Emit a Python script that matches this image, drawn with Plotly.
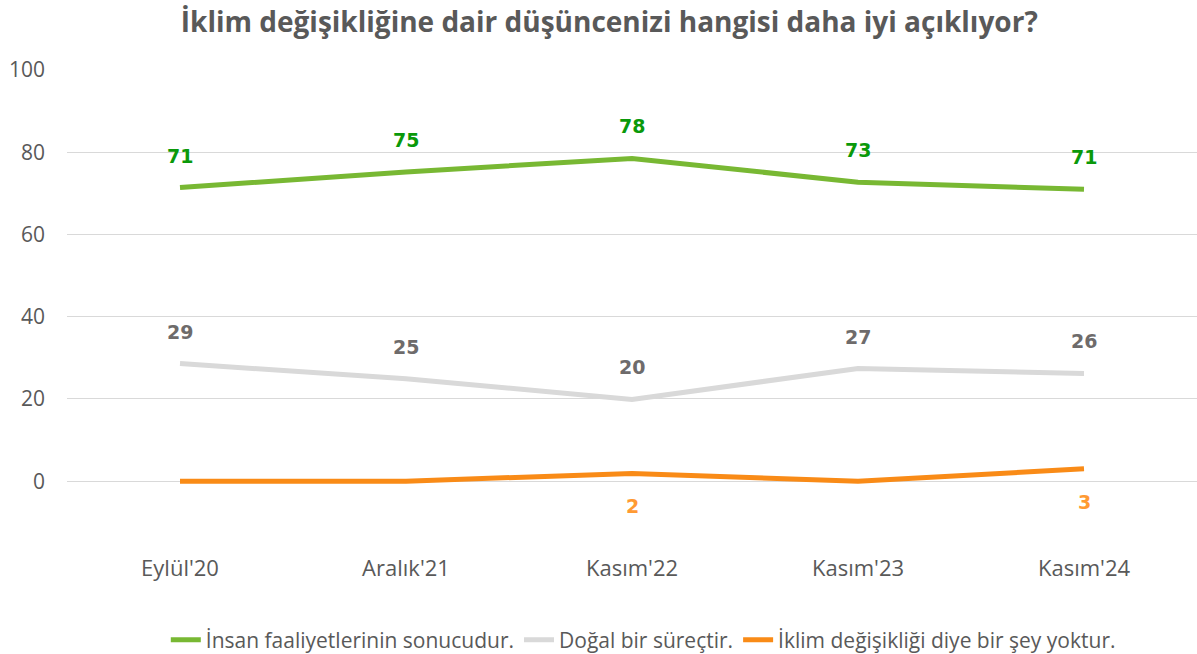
import plotly.graph_objects as go

categories = ["Eylül'20", "Aralık'21", "Kasım'22", "Kasım'23", "Kasım'24"]
insan = [71.4, 75.2, 78.5, 72.7, 71.0]
dogal = [28.6, 24.9, 19.9, 27.4, 26.2]
yok = [0.0, 0.0, 1.9, 0.0, 3.0]
insan_lbl = ["71", "75", "78", "73", "71"]
dogal_lbl = ["29", "25", "20", "27", "26"]
yok_lbl = ["", "", "2", "", "3"]
series_names = ["İnsan faaliyetlerinin sonucudur.", "Doğal bir süreçtir.", "İklim değişikliği diye bir şey yoktur."]
yticks = [0, 20, 40, 60, 80, 100]

line_cols = ["#78B833", "#D9D9D9", "#F98B17"]
lbl_cols = ["#0A990A", "#6E6B6B", "#FF9A33"]

txt = "Open Sans, Liberation Sans, sans-serif"

fig = go.Figure()
for vals, name, col in zip([insan, dogal, yok], series_names, line_cols):
    fig.add_trace(go.Scatter(x=categories, y=vals, name=name, mode="lines",
                             line=dict(color=col, width=5), hoverinfo="skip"))

anns = []
for vals, lbls, col, shift in [(insan, insan_lbl, lbl_cols[0], 32),
                               (dogal, dogal_lbl, lbl_cols[1], 32),
                               (yok, yok_lbl, lbl_cols[2], -33)]:
    for c, v, t in zip(categories, vals, lbls):
        if t:
            anns.append(dict(x=c, y=v, text=t, showarrow=False, yshift=shift,
                             font=dict(family="DejaVu Sans", size=19, color=col, weight="bold")))

fig.update_layout(
    width=1197, height=654,
    margin=dict(l=67, r=0, t=70, b=107, autoexpand=False),
    paper_bgcolor="white", plot_bgcolor="white",
    title=dict(text="<b>İklim değişikliğine dair düşüncenizi hangisi daha iyi açıklıyor?</b>",
               x=0.509, xanchor="center", y=0.966, yanchor="middle",
               font=dict(family=txt, size=28, color="#595959")),
    xaxis=dict(type="category", range=[-0.5, 4.5], showgrid=False, showline=False, zeroline=False,
               automargin=False, ticks="", tickfont=dict(family=txt, size=22, color="#595959"),
               ticklabelstandoff=6),
    yaxis=dict(range=[-16, 100], tickvals=yticks, showgrid=True, gridcolor="#D9D9D9", gridwidth=1,
               automargin=False, zeroline=False, showline=False, ticks="", ticklabelstandoff=21,
               tickfont=dict(family=txt, size=21, color="#595959")),
    legend=dict(orientation="h", x=0.51, xanchor="center", y=-0.195, yanchor="middle",
                font=dict(family=txt, size=21, color="#595959")),
    annotations=anns,
    showlegend=True,
)

fig.write_html("out.html", config={"displayModeBar": False},
               post_script="document.body.style.margin='0px';")
